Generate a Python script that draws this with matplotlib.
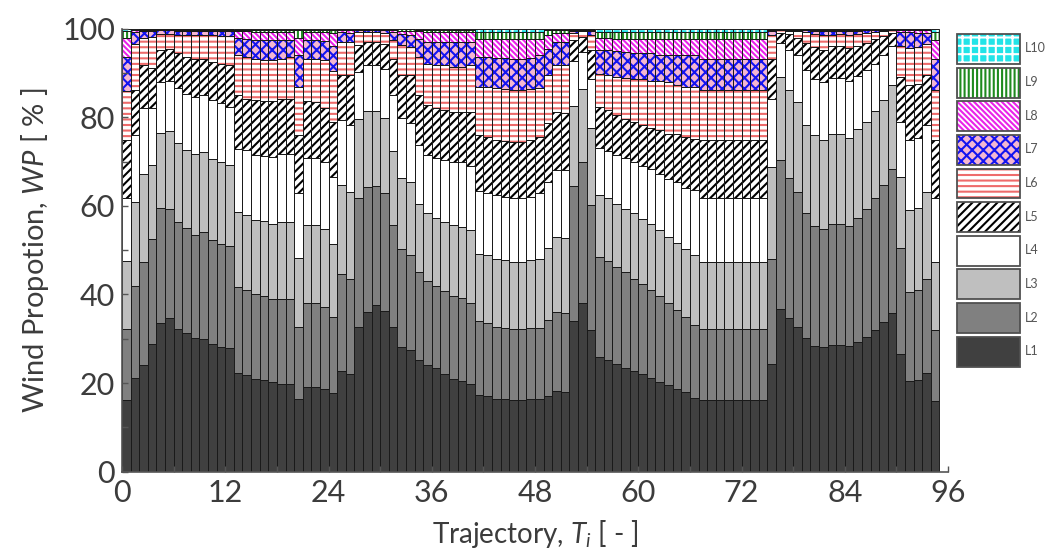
import numpy as np
import matplotlib
matplotlib.use("Agg")
import matplotlib.pyplot as plt
from matplotlib.patches import Patch
from matplotlib.ticker import MultipleLocator

plt.rcParams.update({
    "font.family": ["Lato", "DejaVu Sans"],
    "mathtext.fontset": "custom",
    "mathtext.rm": "Lato",
    "mathtext.it": "Lato:italic",
    "hatch.linewidth": 1.5,
})

LEVELS = ["L1", "L2", "L3", "L4", "L5", "L6", "L7", "L8", "L9", "L10"]

# upper edge (cumulative %) of each level for trajectories 1..95, L10 fills up to 100
TOP_L1 = [16.2, 21.2, 24.1, 28.9, 33.6, 34.6, 32.3, 31.2, 30.1, 29.9,
          28.8, 28.2, 28.0, 22.2, 21.8, 20.9, 20.7, 20.3, 19.8, 19.8,
          16.5, 19.2, 19.2, 18.6, 17.7, 22.7, 22.0, 32.7, 36.1, 37.6,
          36.2, 32.6, 28.2, 27.4, 25.2, 24.1, 23.3, 22.0, 20.9, 20.5,
          19.7, 17.4, 17.1, 16.5, 16.4, 16.2, 16.2, 16.4, 16.4, 17.1,
          18.2, 18.0, 34.0, 38.0, 32.0, 25.9, 25.2, 24.2, 23.5, 22.8,
          22.0, 21.2, 20.3, 19.5, 18.6, 17.9, 16.7, 16.2, 16.2, 16.2,
          16.2, 16.2, 16.2, 16.2, 16.2, 24.4, 36.8, 34.6, 32.7, 30.1,
          28.4, 28.2, 28.6, 28.7, 28.4, 29.3, 30.5, 32.0, 33.8, 35.9,
          26.5, 20.5, 20.7, 22.2, 15.9]
TOP_L2 = [32.2, 41.9, 47.4, 52.6, 59.5, 59.4, 56.4, 54.9, 53.5, 54.0,
          52.3, 51.5, 51.0, 41.7, 41.0, 40.0, 39.7, 38.9, 38.9, 38.9,
          32.6, 38.0, 38.0, 37.2, 35.0, 44.7, 43.6, 61.7, 64.3, 64.5,
          62.8, 55.6, 50.2, 48.9, 45.0, 43.0, 42.0, 40.8, 39.7, 39.1,
          38.0, 34.0, 33.5, 32.7, 32.5, 32.2, 32.2, 32.5, 32.5, 34.2,
          36.1, 35.9, 64.5, 69.8, 60.3, 48.5, 47.5, 46.2, 45.0, 43.6,
          42.3, 41.0, 39.7, 38.0, 36.5, 35.0, 33.2, 32.2, 32.2, 32.2,
          32.2, 32.2, 32.2, 32.2, 32.2, 48.1, 70.3, 66.2, 63.2, 58.3,
          55.5, 54.7, 55.8, 56.0, 55.4, 57.3, 59.4, 61.8, 64.8, 68.4,
          50.4, 40.6, 41.0, 43.6, 32.0]
TOP_L3 = [47.5, 60.8, 67.1, 69.2, 76.5, 76.8, 74.1, 72.6, 71.8, 72.2,
          70.5, 69.9, 69.2, 58.6, 58.0, 56.8, 56.5, 56.0, 56.4, 56.4,
          48.3, 55.6, 55.6, 54.7, 51.5, 64.7, 63.2, 79.5, 81.4, 81.4,
          79.8, 72.3, 66.4, 65.3, 60.5, 58.3, 57.3, 56.4, 55.6, 55.3,
          54.5, 49.2, 48.9, 48.1, 47.7, 47.4, 47.4, 47.7, 48.1, 50.5,
          53.0, 52.8, 82.6, 86.3, 77.6, 62.4, 61.7, 60.5, 59.2, 58.3,
          57.1, 55.8, 54.5, 53.0, 51.7, 50.2, 49.0, 47.4, 47.4, 47.4,
          47.4, 47.4, 47.4, 47.4, 47.4, 68.8, 89.1, 86.1, 83.5, 78.3,
          75.9, 74.8, 76.3, 76.3, 75.3, 77.4, 78.9, 81.4, 83.8, 87.2,
          66.5, 59.0, 59.5, 63.2, 47.4]
TOP_L4 = [61.7, 76.1, 82.0, 82.0, 88.0, 88.1, 86.5, 85.3, 84.6, 85.0,
          83.8, 83.3, 82.3, 72.9, 72.6, 71.4, 71.3, 71.1, 71.6, 71.6,
          62.8, 70.8, 70.8, 69.9, 66.5, 79.3, 78.3, 90.2, 91.7, 91.7,
          90.8, 85.0, 79.9, 78.6, 73.7, 71.4, 70.8, 70.3, 69.9, 69.9,
          69.0, 63.3, 62.8, 62.4, 62.0, 61.8, 61.8, 62.0, 62.8, 65.4,
          68.0, 68.0, 92.6, 94.7, 88.7, 73.1, 72.3, 71.4, 70.7, 69.9,
          69.0, 68.3, 67.3, 66.0, 65.3, 64.1, 63.5, 61.8, 61.8, 61.8,
          61.8, 61.8, 61.8, 61.8, 61.8, 84.1, 96.8, 95.3, 94.0, 90.6,
          88.7, 88.0, 88.9, 88.9, 88.3, 89.3, 90.6, 92.1, 94.0, 96.1,
          78.9, 74.8, 75.3, 78.3, 61.8]
TOP_L5 = [74.8, 86.1, 91.7, 91.1, 95.1, 95.5, 94.4, 93.6, 93.2, 93.2,
          92.5, 92.1, 91.7, 85.0, 84.2, 83.8, 83.6, 83.6, 84.1, 84.1,
          75.9, 83.6, 83.5, 82.0, 79.0, 89.6, 89.5, 96.4, 97.1, 97.1,
          96.6, 93.2, 89.6, 89.5, 85.0, 82.7, 82.1, 81.6, 81.2, 81.2,
          81.2, 75.9, 75.6, 74.8, 74.6, 74.4, 74.4, 74.8, 75.6, 78.6,
          81.2, 81.0, 97.4, 98.1, 95.3, 82.3, 81.6, 80.6, 79.7, 79.0,
          78.2, 77.6, 77.1, 76.3, 76.3, 75.6, 75.2, 74.8, 74.8, 74.8,
          74.8, 74.8, 74.8, 74.8, 74.8, 93.2, 99.1, 98.9, 97.9, 96.8,
          95.9, 95.3, 96.1, 96.1, 95.6, 96.2, 96.8, 97.7, 98.3, 99.1,
          89.1, 87.2, 87.6, 89.6, 74.8]
TOP_L6 = [86.0, 96.5, 98.0, 98.1, 98.8, 98.9, 98.6, 98.5, 98.5, 98.5,
          98.5, 98.4, 98.3, 94.0, 93.6, 93.2, 92.9, 92.9, 93.2, 93.6,
          86.8, 93.2, 93.2, 92.9, 90.4, 97.0, 97.0, 99.2, 99.2, 99.2,
          99.1, 97.5, 96.4, 95.9, 93.6, 92.1, 91.7, 91.7, 91.4, 91.4,
          91.7, 86.8, 86.8, 86.5, 86.3, 86.1, 86.1, 86.3, 86.5, 89.5,
          91.7, 91.7, 99.1, 99.4, 98.6, 89.8, 89.6, 89.1, 88.9, 88.7,
          88.6, 88.3, 88.1, 88.0, 87.2, 86.8, 86.8, 86.1, 86.1, 86.1,
          86.1, 86.1, 86.1, 86.1, 86.1, 98.5, 99.6, 99.5, 99.4, 99.2,
          98.9, 98.5, 98.6, 98.9, 98.6, 98.9, 99.1, 99.2, 99.4, 99.6,
          96.1, 95.6, 95.9, 96.6, 86.1]
TOP_L7 = [93.5, 99.2, 99.4, 99.5, 99.6, 99.6, 99.5, 99.5, 99.5, 99.5,
          99.5, 99.5, 99.4, 97.9, 97.7, 97.4, 97.4, 97.4, 97.4, 97.4,
          94.0, 97.4, 97.4, 97.2, 96.2, 99.2, 99.1, 99.6, 99.6, 99.6,
          99.6, 99.2, 98.9, 98.5, 97.7, 97.0, 97.0, 97.0, 97.0, 97.0,
          97.0, 93.6, 93.6, 93.4, 93.3, 93.2, 93.2, 93.3, 94.0, 95.5,
          97.0, 97.0, 99.5, 99.7, 99.4, 95.3, 95.2, 95.0, 94.8, 94.6,
          94.4, 94.4, 94.1, 94.0, 94.0, 94.0, 94.0, 93.2, 93.2, 93.2,
          93.2, 93.2, 93.2, 93.2, 93.2, 99.4, 99.8, 99.8, 99.7, 99.6,
          99.5, 99.4, 99.4, 99.5, 99.4, 99.5, 99.6, 99.6, 99.7, 99.8,
          99.2, 99.2, 99.0, 99.1, 93.2]
TOP_L8 = [97.8, 99.6, 99.7, 99.8, 99.8, 99.8, 99.8, 99.8, 99.8, 99.8,
          99.8, 99.8, 99.8, 99.5, 99.4, 99.3, 99.3, 99.3, 99.3, 99.3,
          97.8, 99.3, 99.3, 99.2, 99.0, 99.6, 99.6, 99.8, 99.8, 99.8,
          99.8, 99.6, 99.5, 99.5, 99.4, 99.3, 99.3, 99.3, 99.3, 99.3,
          99.3, 97.7, 97.7, 97.7, 97.7, 97.7, 97.7, 97.7, 97.7, 98.6,
          99.1, 99.1, 99.8, 99.9, 99.8, 97.9, 97.9, 97.7, 97.7, 97.7,
          97.7, 97.7, 97.7, 97.7, 97.7, 97.7, 97.7, 97.7, 97.7, 97.7,
          97.7, 97.7, 97.7, 97.7, 97.7, 99.7, 99.9, 99.9, 99.9, 99.8,
          99.8, 99.8, 99.8, 99.8, 99.8, 99.8, 99.8, 99.8, 99.9, 99.9,
          99.6, 99.6, 99.6, 99.6, 97.5]
TOP_L9 = [99.5, 99.8, 99.9, 99.9, 99.9, 99.9, 99.9, 99.9, 99.9, 99.9,
          99.9, 99.9, 99.9, 99.8, 99.8, 99.8, 99.8, 99.8, 99.8, 99.8,
          99.6, 99.8, 99.8, 99.8, 99.7, 99.9, 99.9, 99.9, 99.9, 99.9,
          99.9, 99.9, 99.9, 99.9, 99.8, 99.8, 99.8, 99.8, 99.8, 99.8,
          99.8, 99.2, 99.2, 99.2, 99.2, 99.2, 99.2, 99.2, 99.2, 99.6,
          99.7, 99.7, 99.9, 99.9, 99.9, 99.2, 99.2, 99.2, 99.2, 99.2,
          99.2, 99.2, 99.2, 99.2, 99.2, 99.2, 99.2, 99.2, 99.2, 99.2,
          99.2, 99.2, 99.2, 99.2, 99.2, 99.9, 99.9, 99.9, 99.9, 99.9,
          99.9, 99.9, 99.9, 99.9, 99.9, 99.9, 99.9, 99.9, 99.9, 99.9,
          99.9, 99.9, 99.9, 99.9, 99.2]

FILL = ["#404040", "#808080", "#bfbfbf", "white", "white",
        "white", "#f4b6d2", "white", "white", "#22e4e8"]
HATCH_COLOR = ["#404040", "#808080", "#bfbfbf", "white", "black",
               "#ee6b6b", "#1414f0", "#ea22ea", "#1e8a1e", "white"]
HATCH = [None, None, None, None, "////", "---", "xxx", "\\" * 6, "||||", "++"]
TXT = "#3c3c3c"

tops = np.vstack([np.zeros(len(TOP_L1)), TOP_L1, TOP_L2, TOP_L3, TOP_L4, TOP_L5,
                  TOP_L6, TOP_L7, TOP_L8, TOP_L9, np.full(len(TOP_L1), 100.0)])
wp = np.diff(tops, axis=0)
x = np.arange(1, len(TOP_L1) + 1) - 0.5

fig = plt.figure(figsize=(10.53, 5.58), dpi=100)
ax = fig.add_axes([0.1159, 0.1547, 0.7844, 0.7939])

for k in range(len(LEVELS)):
    # fill + coloured hatch first, dark outline on top
    ax.bar(x, wp[k], bottom=tops[k], width=1.0, color=FILL[k],
           edgecolor=HATCH_COLOR[k], hatch=HATCH[k], linewidth=0)
    ax.bar(x, wp[k], bottom=tops[k], width=1.0, fill=False,
           edgecolor="#1a1a1a", linewidth=0.7)

ax.set_xlim(0, 96)
ax.set_ylim(0, 100)
ax.xaxis.set_major_locator(MultipleLocator(12))
ax.xaxis.set_minor_locator(MultipleLocator(6))
ax.yaxis.set_major_locator(MultipleLocator(20))
ax.yaxis.set_minor_locator(MultipleLocator(10))
ax.tick_params(which="both", direction="in", length=4, width=1, color="#555555",
               labelsize=22, labelcolor=TXT, pad=5)
for s in ("top", "right"):
    ax.spines[s].set_visible(False)
for s in ("left", "bottom"):
    ax.spines[s].set_color("#555555")
    ax.spines[s].set_linewidth(1.2)

ax.set_xlabel("Trajectory, $T_i$ [ - ]", fontsize=20, color=TXT, labelpad=8)
ax.set_ylabel("Wind Propotion, $WP$ [ % ]", fontsize=21, color=TXT, labelpad=8)

handles = [(Patch(facecolor=FILL[k], edgecolor=HATCH_COLOR[k], hatch=HATCH[k], linewidth=0),
            Patch(facecolor="none", edgecolor="#505050", linewidth=1.3))
           for k in range(len(LEVELS))]
fig.legend(handles[::-1], LEVELS[::-1], loc="upper left",
           bbox_to_anchor=(957 / 1053, 1 - 34 / 558), frameon=False,
           fontsize=9, labelcolor="#555555", borderpad=0, borderaxespad=0,
           handlelength=5.0, handleheight=3.3, labelspacing=0.3, handletextpad=0.4)

fig.savefig("out.png", dpi=100, facecolor="white")
